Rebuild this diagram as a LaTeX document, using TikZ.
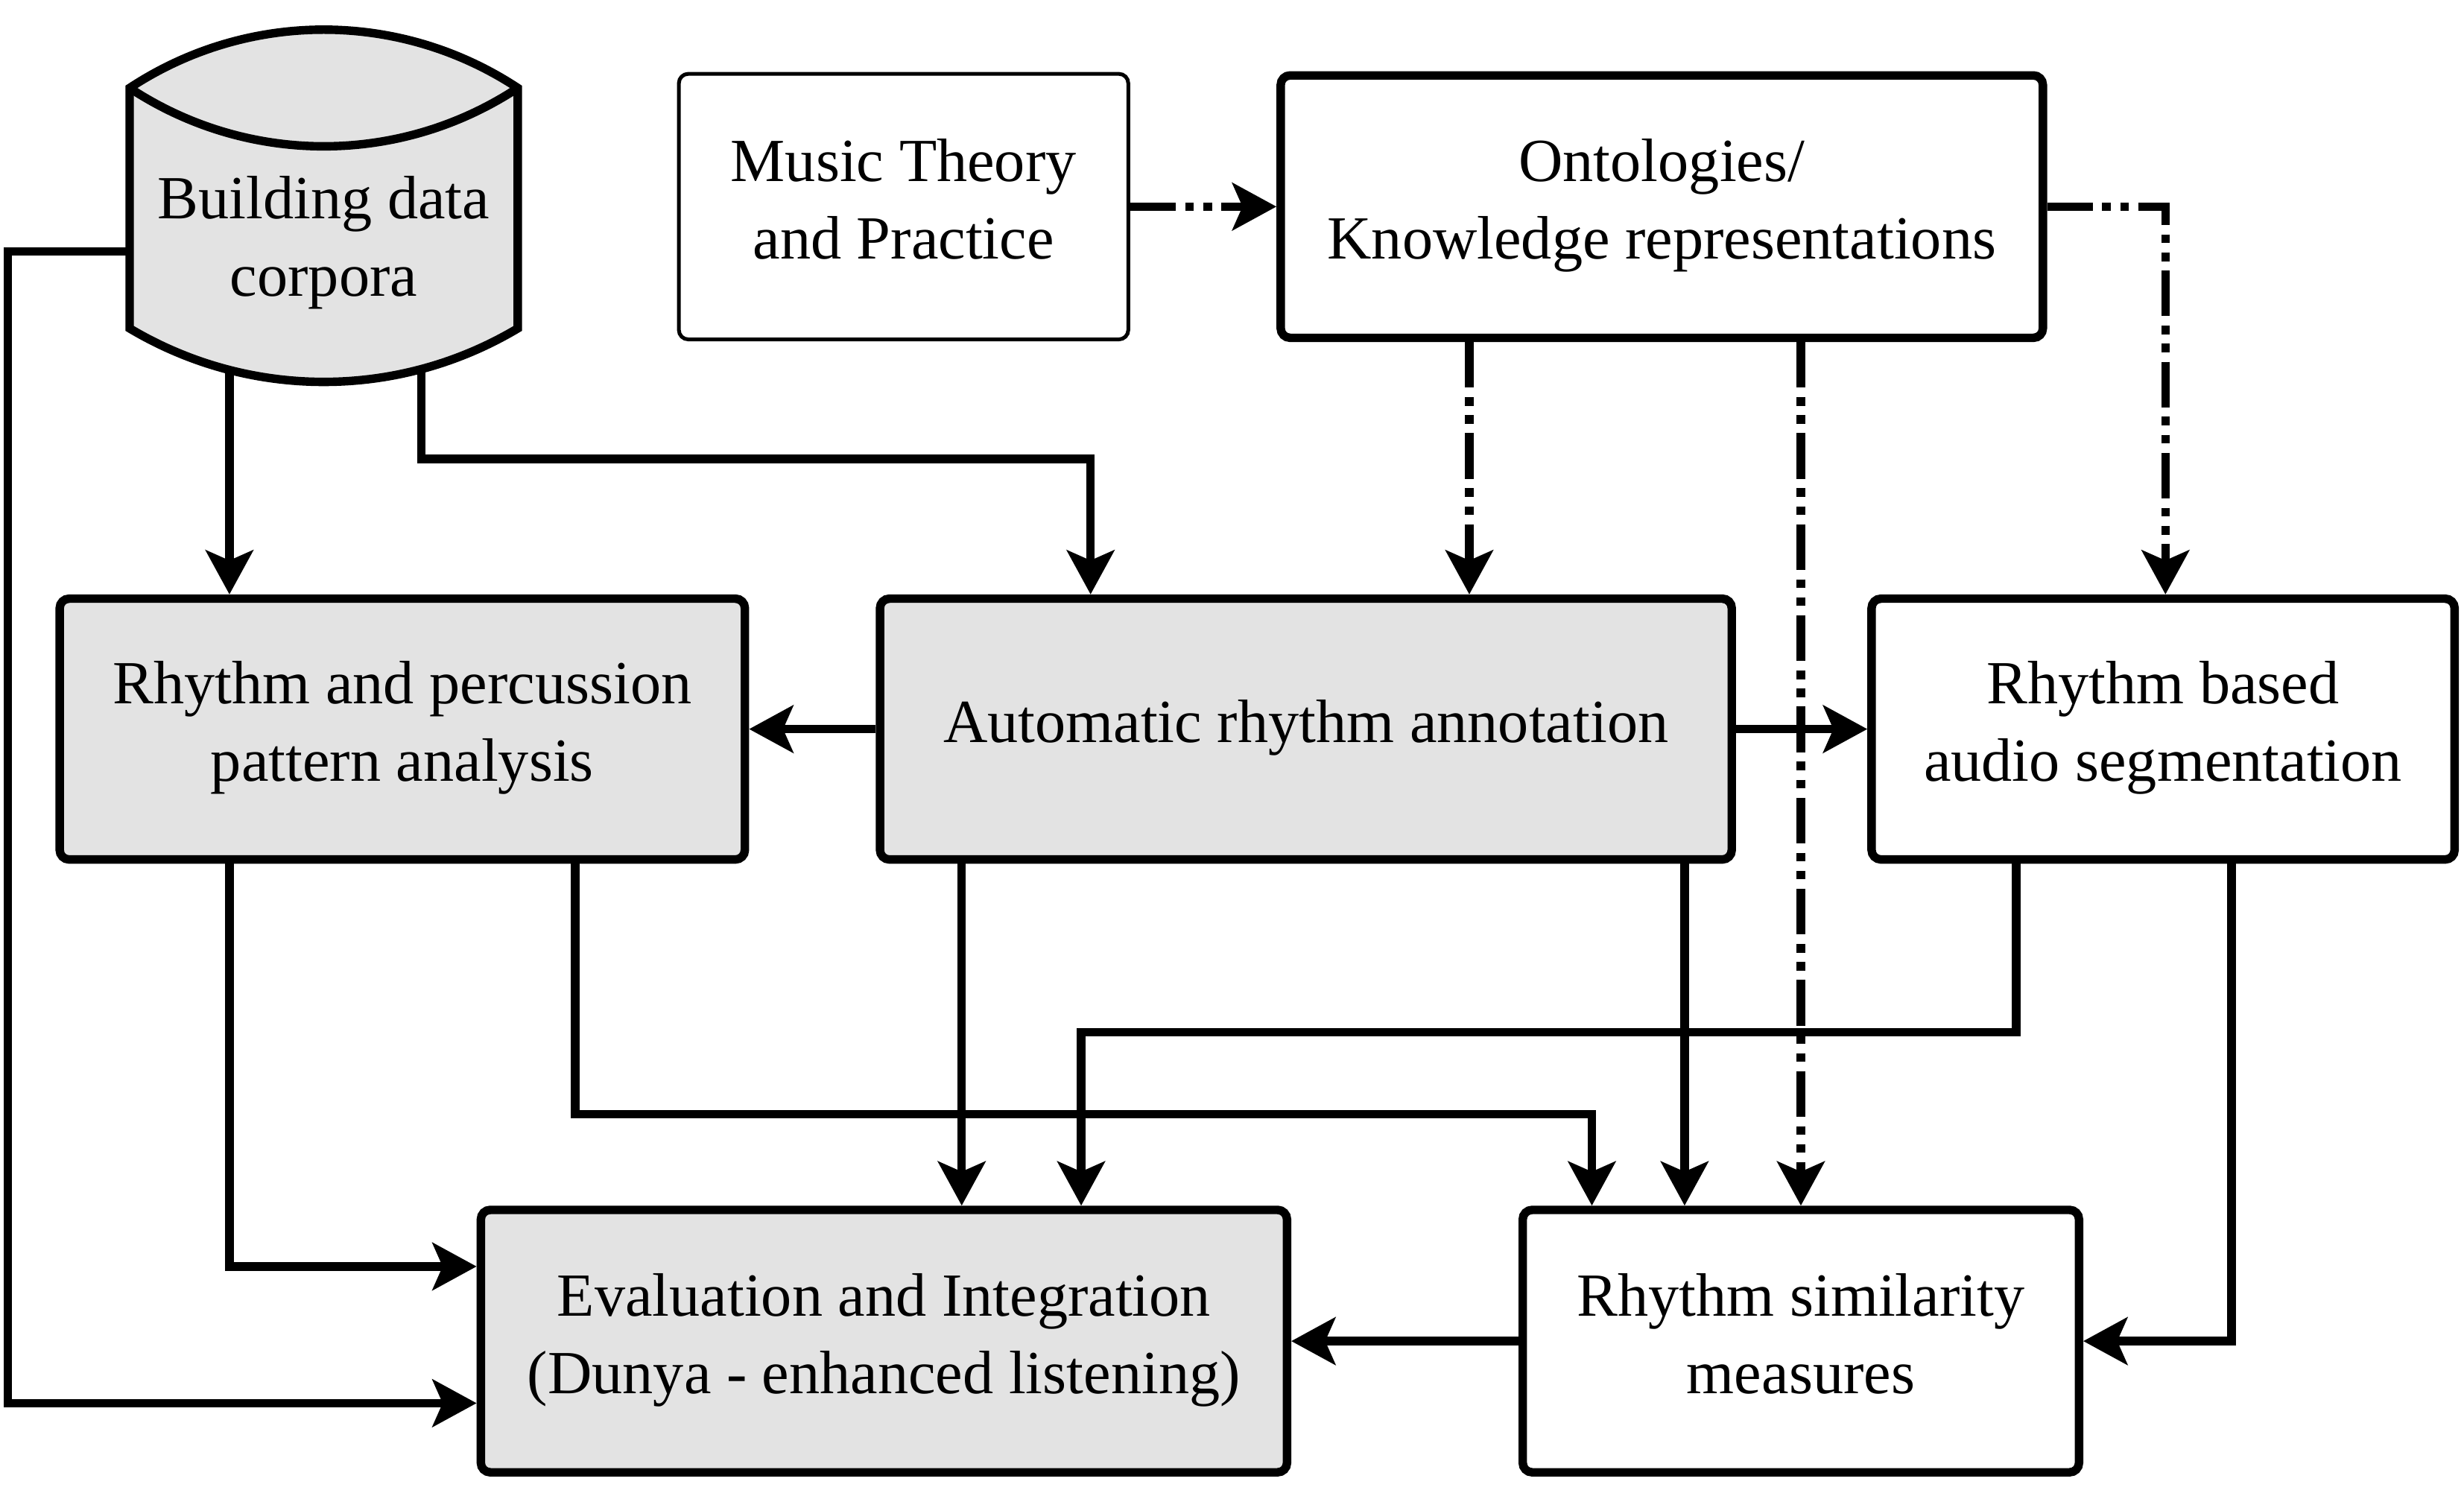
\documentclass[tikz,border=0pt]{standalone}
\usepackage{fontspec}
\setmainfont{Liberation Serif}
\usetikzlibrary{arrows.meta}
\definecolor{boxgray}{RGB}{227,227,227}
\newcommand\boxstrut{\rule[-4.85pt]{0pt}{18.35pt}}
\pgfdeclarelayer{bg}
\pgfsetlayers{bg,main}
\begin{document}
\begin{tikzpicture}[x=0.5pt,y=-0.5pt,
  font=\fontsize{19.5}{24.65}\selectfont,
  box/.style={draw, line width=2.7pt, rounded corners=3pt, align=center, inner sep=0pt,
    execute at begin node=\boxstrut, execute at end node=\boxstrut},
  thinbox/.style={box, line width=1.2pt},
  grayed/.style={fill=boxgray},
  arr/.style={line width=2.7pt, -{Stealth[length=14pt,width=15pt,inset=3.2pt]}},
  ddd/.style={arr, dash pattern=on 14.5pt off 3pt on 2.75pt off 3pt on 2.75pt off 3pt}]
\useasboundingbox (0,0) rectangle (1568,952);

% boxes
\node[thinbox, minimum width=143pt, minimum height=84.5pt] (mt) at (575,131.5) {Music Theory\\and Practice};
\node[box, minimum width=242.5pt, minimum height=83.5pt] (onto) at (1057.5,131.5) {Ontologies/\\Knowledge representations};
\node[box, grayed, minimum width=218pt, minimum height=83pt] (rpa) at (256,464) {Rhythm and percussion\\pattern analysis};
\node[box, grayed, minimum width=271pt, minimum height=83pt] (ara) at (831,464) {Automatic rhythm annotation};
\node[box, minimum width=185.5pt, minimum height=83pt] (rba) at (1376.5,464) {Rhythm based\\audio segmentation};
\node[box, grayed, minimum width=256.5pt, minimum height=83.5pt] (eval) at (562.5,853.5) {Evaluation and Integration\\(Dunya - enhanced listening)};
\node[box, minimum width=177pt, minimum height=83.5pt] (rsm) at (1146,853.5) {Rhythm similarity\\measures};

% cylinder
\path[fill=boxgray, draw, line width=2.7pt] (82.5,56) .. controls (157.5,6.5) and (254.5,6.5) .. (329.5,56)
  -- (329.5,209) .. controls (253.4,254.4) and (158.6,254.4) .. (82.5,209) -- cycle;
\draw[line width=2.7pt] (82.5,56) .. controls (157.5,105.5) and (254.5,105.5) .. (329.5,56);
\node[align=center, inner sep=0pt, outer sep=0pt, minimum width=123.5pt, minimum height=58pt] (cyl) at (206,154.5) {Building data\\corpora};

\begin{pgfonlayer}{bg}
\coordinate (p1) at (5,160);
\coordinate (p2) at (5,893);
\draw[arr] (cyl.west |- p1) -- (p1) -- (p2) -- (eval.west |- p2);

\coordinate (c1) at (146,0);
\draw[arr] (cyl.south -| c1) -- (rpa.north -| c1);

\coordinate (q1) at (268,292);
\coordinate (q2) at (694,292);
\draw[arr] (cyl.south -| q1) -- (q1) -- (q2) -- (ara.north -| q2);

\draw[ddd] (mt) -- (onto);
\coordinate (r1) at (1378,131.5);
\draw[ddd] (onto.east) -- (r1) -- (rba.north -| r1);
\coordinate (s1) at (935,0);
\draw[ddd] (onto.south -| s1) -- (ara.north -| s1);
\draw[ddd] (onto.south -| rsm.north) -- (rsm.north);

\draw[arr] (ara) -- (rpa);
\draw[arr] (ara) -- (rba);

\coordinate (t1) at (146,806);
\draw[arr] (rpa.south -| t1) -- (t1) -- (eval.west |- t1);

\coordinate (u1) at (366,709);
\coordinate (u2) at (1013,709);
\draw[arr] (rpa.south -| u1) -- (u1) -- (u2) -- (rsm.north -| u2);

\coordinate (v1) at (612,0);
\draw[arr] (ara.south -| v1) -- (eval.north -| v1);
\coordinate (w1) at (1072,0);
\draw[arr] (ara.south -| w1) -- (rsm.north -| w1);

\coordinate (x1) at (1283,657);
\coordinate (x2) at (688,657);
\draw[arr] (rba.south -| x1) -- (x1) -- (x2) -- (eval.north -| x2);

\coordinate (z1) at (1420,853.5);
\draw[arr] (rba.south -| z1) -- (z1) -- (rsm.east |- z1);

\draw[arr] (rsm) -- (eval);
\end{pgfonlayer}
\end{tikzpicture}
\end{document}
